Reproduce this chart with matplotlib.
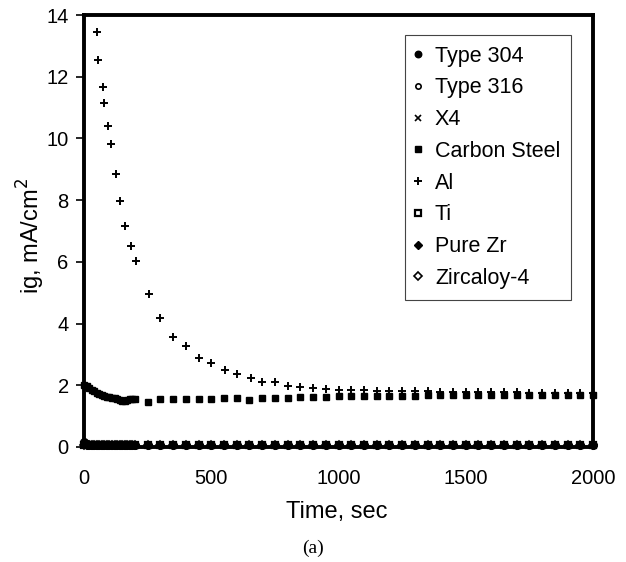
import matplotlib
matplotlib.use("Agg")
import matplotlib.pyplot as plt

# ---------------- data ----------------
time_s = [0, 10, 20, 30, 40, 50, 60, 70, 80, 90, 100, 110, 120, 130, 140, 150, 160, 170, 180, 190, 200,
          250, 300, 350, 400, 450, 500, 550, 600, 650, 700, 750, 800, 850, 900, 950, 1000,
          1050, 1100, 1150, 1200, 1250, 1300, 1350, 1400, 1450, 1500, 1550, 1600, 1650, 1700,
          1750, 1800, 1850, 1900, 1950, 2000]

type304 = [0.15, 0.09, 0.07, 0.06, 0.06, 0.05, 0.05, 0.05, 0.05, 0.05, 0.05, 0.05, 0.05, 0.05, 0.05, 0.05, 0.05, 0.05, 0.05, 0.05, 0.05,
           0.05, 0.05, 0.05, 0.05, 0.05, 0.05, 0.05, 0.05, 0.05, 0.05, 0.05, 0.05, 0.05, 0.05, 0.05, 0.05,
           0.05, 0.05, 0.05, 0.05, 0.05, 0.05, 0.05, 0.05, 0.05, 0.05, 0.05, 0.05, 0.05, 0.05,
           0.05, 0.05, 0.05, 0.05, 0.05, 0.05]
type316 = [0.12, 0.08, 0.06, 0.05, 0.05, 0.05, 0.05, 0.05, 0.05, 0.05, 0.05, 0.05, 0.05, 0.05, 0.05, 0.05, 0.05, 0.05, 0.05, 0.05, 0.05,
           0.05, 0.05, 0.05, 0.05, 0.05, 0.05, 0.05, 0.05, 0.05, 0.05, 0.05, 0.05, 0.05, 0.05, 0.05, 0.05,
           0.05, 0.05, 0.05, 0.05, 0.05, 0.05, 0.05, 0.05, 0.05, 0.05, 0.05, 0.05, 0.05, 0.05,
           0.05, 0.05, 0.05, 0.05, 0.05, 0.05]
x4 = [0.10, 0.07, 0.06, 0.05, 0.05, 0.05, 0.05, 0.05, 0.05, 0.05, 0.05, 0.05, 0.05, 0.05, 0.05, 0.05, 0.05, 0.05, 0.05, 0.05, 0.05,
      0.05, 0.05, 0.05, 0.05, 0.05, 0.05, 0.05, 0.05, 0.05, 0.05, 0.05, 0.05, 0.05, 0.05, 0.05, 0.05,
      0.05, 0.05, 0.05, 0.05, 0.05, 0.05, 0.05, 0.05, 0.05, 0.05, 0.05, 0.05, 0.05, 0.05,
      0.05, 0.05, 0.05, 0.05, 0.05, 0.05]
ti = [0.08, 0.06, 0.05, 0.05, 0.05, 0.05, 0.05, 0.05, 0.05, 0.05, 0.05, 0.05, 0.05, 0.05, 0.05, 0.05, 0.05, 0.05, 0.05, 0.05, 0.05,
      0.05, 0.05, 0.05, 0.05, 0.05, 0.05, 0.05, 0.05, 0.05, 0.05, 0.05, 0.05, 0.05, 0.05, 0.05, 0.05,
      0.05, 0.05, 0.05, 0.05, 0.05, 0.05, 0.05, 0.05, 0.05, 0.05, 0.05, 0.05, 0.05, 0.05,
      0.05, 0.05, 0.05, 0.05, 0.05, 0.05]
pure_zr = [0.09, 0.06, 0.05, 0.05, 0.05, 0.05, 0.05, 0.05, 0.05, 0.05, 0.05, 0.05, 0.05, 0.05, 0.05, 0.05, 0.05, 0.05, 0.05, 0.05, 0.05,
           0.05, 0.05, 0.05, 0.05, 0.05, 0.05, 0.05, 0.05, 0.05, 0.05, 0.05, 0.05, 0.05, 0.05, 0.05, 0.05,
           0.05, 0.05, 0.05, 0.05, 0.05, 0.05, 0.05, 0.05, 0.05, 0.05, 0.05, 0.05, 0.05, 0.05,
           0.05, 0.05, 0.05, 0.05, 0.05, 0.05]
zircaloy4 = [0.07, 0.06, 0.05, 0.05, 0.05, 0.05, 0.05, 0.05, 0.05, 0.05, 0.05, 0.05, 0.05, 0.05, 0.05, 0.05, 0.05, 0.05, 0.05, 0.05, 0.05,
             0.05, 0.05, 0.05, 0.05, 0.05, 0.05, 0.05, 0.05, 0.05, 0.05, 0.05, 0.05, 0.05, 0.05, 0.05, 0.05,
             0.05, 0.05, 0.05, 0.05, 0.05, 0.05, 0.05, 0.05, 0.05, 0.05, 0.05, 0.05, 0.05, 0.05,
             0.05, 0.05, 0.05, 0.05, 0.05, 0.05]
carbon_steel = [2.00, 1.97, 1.91, 1.86, 1.81, 1.76, 1.72, 1.68, 1.65, 1.63, 1.61, 1.60, 1.58, 1.55, 1.52, 1.48, 1.50, 1.53, 1.55, 1.55, 1.56,
                1.45, 1.55, 1.56, 1.56, 1.56, 1.57, 1.60, 1.60, 1.52, 1.60, 1.60, 1.60, 1.62, 1.62, 1.63, 1.64,
                1.64, 1.65, 1.65, 1.66, 1.66, 1.66, 1.67, 1.67, 1.67, 1.68, 1.68, 1.68, 1.69, 1.69,
                1.70, 1.70, 1.70, 1.70, 1.70, 1.70]

al_time = [50, 55, 75, 80, 95, 105, 125, 140, 160, 185, 205, 255, 300, 350, 400, 450, 500, 555, 600, 655,
           700, 750, 800, 850, 900, 950, 1000, 1050, 1100, 1150, 1200, 1250, 1300, 1350, 1400, 1450,
           1500, 1550, 1600, 1650, 1700, 1750, 1800, 1850, 1900, 1950, 2000]
al = [13.46, 12.54, 11.68, 11.14, 10.40, 9.81, 8.84, 7.98, 7.17, 6.51, 6.03, 4.95, 4.19, 3.57, 3.27, 2.90, 2.73, 2.50, 2.35, 2.25,
      2.12, 2.12, 1.98, 1.95, 1.90, 1.88, 1.86, 1.85, 1.84, 1.83, 1.82, 1.81, 1.80, 1.80, 1.79, 1.79,
      1.78, 1.78, 1.77, 1.77, 1.77, 1.76, 1.76, 1.76, 1.75, 1.75, 1.75]

x_ticks = [0, 500, 1000, 1500, 2000]
y_ticks = [0, 2, 4, 6, 8, 10, 12, 14]

# ---------------- figure ----------------
plt.rcParams['font.family'] = ['Liberation Sans', 'DejaVu Sans']
fig = plt.figure(figsize=(6.26, 5.62), dpi=100)
ax = fig.add_axes([84/626, 1 - 447/562, 509/626, 432/562])

series = [
    ("Type 304", time_s, type304, dict(marker='o', mfc='black', mec='black', ms=5.5, zorder=4)),
    ("Type 316", time_s, type316, dict(marker='o', mfc='white', mec='black', ms=4.5, mew=1.2, zorder=2)),
    ("X4", time_s, x4, dict(marker='x', mec='black', ms=4.5, mew=1.2, zorder=2)),
    ("Carbon Steel", time_s, carbon_steel, dict(marker='s', mfc='black', mec='black', ms=5, zorder=3)),
    ("Al", al_time, al, dict(marker='+', mec='black', ms=6, mew=1.4, zorder=3)),
    ("Ti", time_s, ti, dict(marker='s', mfc='white', mec='black', ms=5, mew=1.6, zorder=2.5)),
    ("Pure Zr", time_s, pure_zr, dict(marker='D', mfc='black', mec='black', ms=4.5, zorder=4)),
    ("Zircaloy-4", time_s, zircaloy4, dict(marker='D', mfc='white', mec='black', ms=4.5, mew=1.2, zorder=2)),
]
for label, xs, ys, st in series:
    ax.plot(xs, ys, linestyle='none', label=label, clip_on=False, **st)

ax.set_xlim(0, 2000)
ax.set_ylim(0, 14)
ax.set_xticks(x_ticks)
ax.set_yticks(y_ticks)
ax.tick_params(axis='y', direction='out', length=6, width=1.2, pad=5, labelsize=14.5)
ax.tick_params(axis='x', direction='in', length=0, pad=16, labelsize=14.5)
for s in ax.spines.values():
    s.set_linewidth(2.8)
    s.set_zorder(0.5)

handles, labels = ax.get_legend_handles_labels()
leg = ax.legend(handles, labels, loc='upper right', bbox_to_anchor=(0.957, 0.954), fontsize=15.5,
                frameon=True, fancybox=False, edgecolor='#444444', framealpha=1,
                handlelength=0.2, handletextpad=0.7, labelspacing=0.5,
                borderpad=0.5, borderaxespad=0, markerscale=0.85)
leg.get_frame().set_linewidth(0.8)
leg.set_zorder(5)

fig.text(336.5/626, 1 - 518/562, "Time, sec", ha='center', va='baseline', fontsize=17)
fig.text(31/626, 1 - 236/562, "ig, mA/cm$^2$", ha='center', va='center', rotation=90, fontsize=17)
fig.text(313/626, 1 - 553/562, "(a)", ha='center', va='baseline', fontsize=14,
         family=['Liberation Serif', 'DejaVu Serif'])

fig.savefig("out.png", dpi=100)
